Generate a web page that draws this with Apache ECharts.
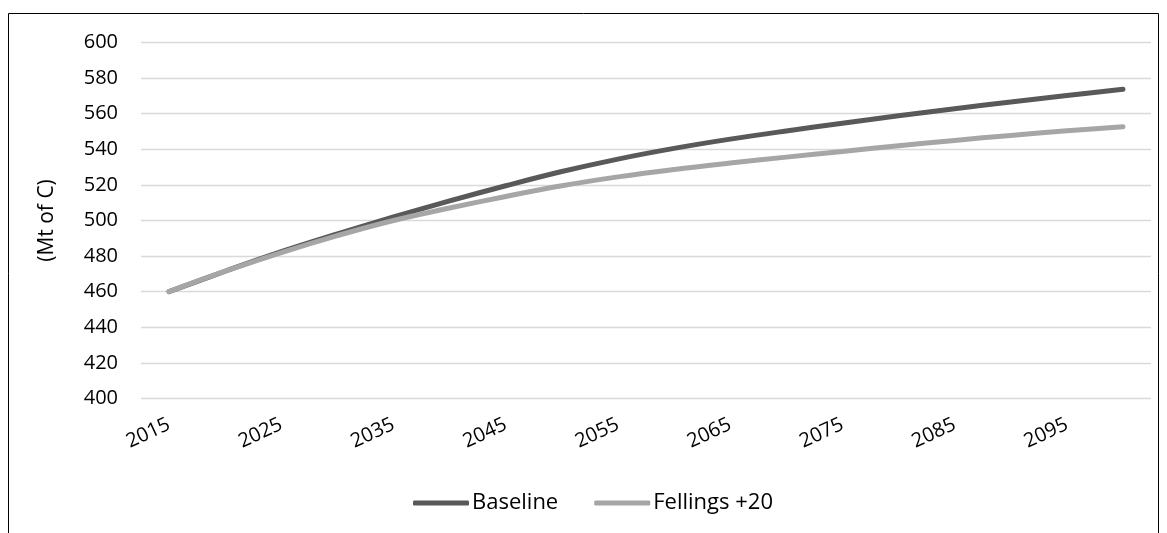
<!DOCTYPE html>
<html>
<head>
<meta charset="utf-8">
<script src="https://cdn.jsdelivr.net/npm/echarts@6/dist/echarts.min.js"></script>
<style>
html,body{margin:0;padding:0;background:#fff;}
#chart{width:1167px;height:533px;}
</style>
</head>
<body>
<div id="chart"></div>
<script>
const years = ['2015','2020','2025','2030','2035','2040','2045','2050','2055','2060','2065','2070','2075','2080','2085','2090','2095','2100'];
const baseline = [460, 471.5, 482.5, 492.5, 502, 511, 519.5, 527.5, 534.5, 540.5, 545.7, 550.3, 554.6, 558.8, 562.8, 566.6, 570.2, 573.7];
const fellings = [460, 471.5, 482, 491.5, 500, 507, 513.5, 519.5, 524.5, 528.7, 532.3, 535.6, 538.8, 542, 545, 547.8, 550.4, 552.7];
const seriesNames = ['Baseline', 'Fellings +20'];
const yAxisName = '(Mt of C)';

const FONT = 'Open Sans';
const chart = echarts.init(document.getElementById('chart'), null, {renderer: 'canvas'});
chart.setOption({
  backgroundColor: '#fff',
  animation: false,
  textStyle: {fontFamily: FONT, color: '#000'},
  graphic: [{
    type: 'rect', silent: true,
    shape: {x: 8.5, y: 13.5, width: 1150, height: 530},
    style: {fill: 'none', stroke: '#000', lineWidth: 1}
  }],
  grid: {left: 141, right: 16, top: 42.5, bottom: 134.5, containLabel: false},
  legend: {
    data: seriesNames,
    top: 487,
    left: 408,
    icon: 'roundRect',
    itemWidth: 56,
    itemHeight: 5,
    itemGap: 36,
    textStyle: {fontFamily: FONT, fontSize: 22, color: '#000', padding: [0, 0, 0, -2]}
  },
  xAxis: {
    type: 'category',
    data: years,
    boundaryGap: true,
    axisLine: {show: false},
    axisTick: {show: false},
    axisLabel: {interval: 1, rotate: 25, margin: 25, fontFamily: FONT, fontSize: 20, color: '#000'},
    splitLine: {show: false}
  },
  yAxis: {
    type: 'value',
    min: 400, max: 600, interval: 20,
    name: yAxisName,
    nameLocation: 'middle',
    nameGap: 83,
    nameRotate: 90,
    nameTextStyle: {fontFamily: FONT, fontSize: 21, color: '#000'},
    axisLine: {show: false},
    axisTick: {show: false},
    axisLabel: {margin: 23, fontFamily: FONT, fontSize: 20, color: '#000'},
    splitLine: {lineStyle: {color: '#d9d9d9', width: 1.3}}
  },
  series: [
    {name: seriesNames[0], type: 'line', data: baseline, smooth: 0.4, symbol: 'none',
     itemStyle: {color: '#595959'},
     lineStyle: {color: '#595959', width: 5, cap: 'round'}},
    {name: seriesNames[1], type: 'line', data: fellings, smooth: 0.4, symbol: 'none',
     itemStyle: {color: '#a6a6a6'},
     lineStyle: {color: '#a6a6a6', width: 5, cap: 'round'}}
  ]
});
</script>
</body>
</html>
